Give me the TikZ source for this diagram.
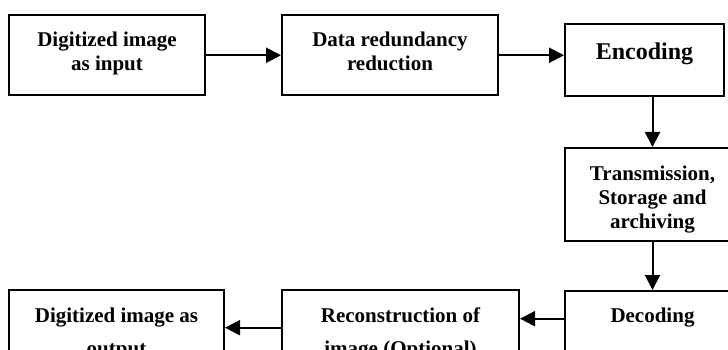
\documentclass[tikz,border=0pt]{standalone}
\usepackage{fontspec}
\setmainfont{Liberation Serif}
\usetikzlibrary{arrows.meta}

\begin{document}
\begin{tikzpicture}[x=1pt, y=-1pt,
        blk/.style={draw, line width=2pt, align=flush center, anchor=north,
            inner xsep=0pt, inner ysep=4pt, text height=28pt, text depth=44.5pt,
            font=\fontsize{21}{24}\selectfont\bfseries},
        flow/.style={line width=2pt, -{Triangle[length=15pt, width=15pt]}}]
                \useasboundingbox (0,0) rectangle (728,350);
                \clip (0,0) rectangle (728,350);
                \node[blk, text width=196pt] (in) at (107,14) {Digitized image\\as input};
                \node[blk, text width=216pt] (red) at (390,14) {Data redundancy\\reduction};
                \node[blk, text width=159pt, text height=32pt, text depth=32pt,
                    font=\fontsize{24}{28}\selectfont\bfseries] (enc) at (644.5,23) {Encoding};
                \node[blk, text width=175pt, text depth=57pt] (trans) at (652.5,147) {Transmission,\\Storage and\\archiving};
                \node[blk, text width=175pt, text height=27pt] (dec) at (652.5,290) {Decoding};
                \node[blk, text width=237pt, font=\fontsize{21}{33}\selectfont\bfseries] (rec) at (400.5,289) {Reconstruction of\\image (Optional)};
                \node[blk, text width=215pt, font=\fontsize{21}{33}\selectfont\bfseries] (out) at (116.5,289) {Digitized image as\\output};
                \draw[flow] (in.east) -- (red.west);
                \draw[flow] (red.east) -- (red.east -| enc.west);
                \draw[flow] (enc.south -| trans.north) -- (trans.north);
                \draw[flow] (trans.south) -- (dec.north);
                \draw[flow] ([yshift=1pt]dec.mid west) -- ([yshift=1pt]dec.mid west -| rec.east);
                \draw[flow] ([yshift=-8pt]rec.mid west) -- ([yshift=-8pt]rec.mid west -| out.east);
            \end{tikzpicture}
\end{document}
